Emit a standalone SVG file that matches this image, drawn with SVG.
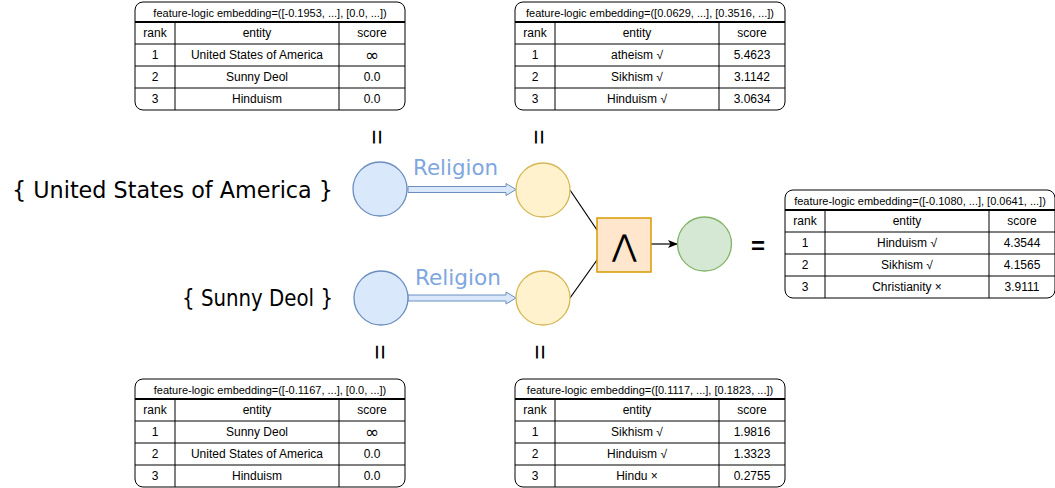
<svg xmlns="http://www.w3.org/2000/svg" width="1055" height="488" viewBox="0 0 1055 488">
<style>
.tb{fill:#fff;stroke:#000;stroke-width:1}
.hl{stroke:#000;stroke-width:2}
.ln{stroke:#000;stroke-width:1}
.t{font-family:"Liberation Sans",Arial,sans-serif;font-size:12px;fill:#000;text-anchor:middle;dominant-baseline:central}
.inf{font-family:"DejaVu Sans",sans-serif;font-size:17px;fill:#000;text-anchor:middle;dominant-baseline:central}
.h{font-family:"Liberation Sans",Arial,sans-serif;font-size:11px;fill:#000;text-anchor:middle;dominant-baseline:central}
.big{font-family:"DejaVu Sans",sans-serif;font-size:23px;fill:#000}
.rel{font-family:"DejaVu Sans",sans-serif;font-size:22px;fill:#7EA6E0}
.veq{font-family:"Liberation Sans",Arial,sans-serif;font-size:26px;fill:#000;text-anchor:middle;dominant-baseline:central}
.eq{font-family:"Liberation Sans",Arial,sans-serif;font-size:24px;font-weight:bold;fill:#000;text-anchor:middle;dominant-baseline:central}
.blue{fill:#dae8fc;stroke:#6c8ebf;stroke-width:1.3}
.yel{fill:#fff2cc;stroke:#d6b656;stroke-width:1.3}
.grn{fill:#d5e8d4;stroke:#82b366;stroke-width:1.3}
.sq{fill:#ffe6cc;stroke:#d79b00;stroke-width:1.5}
.flex{fill:#dae8fc;stroke:#6c8ebf;stroke-width:1}
</style>
<defs>
<marker id="arr" markerWidth="10" markerHeight="10" refX="9" refY="5" orient="auto" markerUnits="userSpaceOnUse">
<path d="M0,1 L10,5 L0,9 L2.5,5 Z" fill="#000"/>
</marker>
<g id="grid">
<rect class="tb" x="0" y="0" width="270" height="108" rx="8"/>
<line class="hl" x1="0" y1="20" x2="270" y2="20"/>
<line class="ln" x1="0" y1="42" x2="270" y2="42"/>
<line class="ln" x1="0" y1="64" x2="270" y2="64"/>
<line class="ln" x1="0" y1="86" x2="270" y2="86"/>
<line class="ln" x1="40" y1="20" x2="40" y2="108"/>
<line class="ln" x1="204" y1="20" x2="204" y2="108"/>
<text class="t" x="20" y="31">rank</text>
<text class="t" x="122" y="31">entity</text>
<text class="t" x="237" y="31">score</text>
<text class="t" x="20" y="53">1</text>
<text class="t" x="20" y="75">2</text>
<text class="t" x="20" y="97">3</text>
</g>
</defs>

<g id="connectors">
<polygon class="flex" points="408,186.5 506,186.5 506,183.5 516,189.5 506,195.5 506,192.5 408,192.5"/>
<polygon class="flex" points="408,295 506,295 506,292 516,298 506,304 506,301 408,301"/>
<line x1="570" y1="190" x2="597" y2="230" stroke="#000" stroke-width="1.2"/>
<line x1="570" y1="298" x2="597" y2="260" stroke="#000" stroke-width="1.2"/>
<line x1="651" y1="244" x2="677" y2="244" stroke="#000" stroke-width="1.2" marker-end="url(#arr)"/>
</g>

<g id="label-usa"><text class="big" x="12" y="198" textLength="321" lengthAdjust="spacingAndGlyphs">{ United States of America }</text></g>
<g id="label-sunny"><text class="big" x="182" y="306" textLength="151" lengthAdjust="spacingAndGlyphs">{ Sunny Deol }</text></g>
<g id="rel-top"><text class="rel" x="413" y="175" textLength="85" lengthAdjust="spacingAndGlyphs">Religion</text></g>
<g id="rel-bottom"><text class="rel" x="415" y="285" textLength="86" lengthAdjust="spacingAndGlyphs">Religion</text></g>

<g id="node-usa"><circle class="blue" cx="380" cy="189" r="27"/></g>
<g id="node-q1"><circle class="yel" cx="543" cy="190" r="27"/></g>
<g id="node-sunny"><circle class="blue" cx="381" cy="298" r="27"/></g>
<g id="node-q2"><circle class="yel" cx="543" cy="298" r="27"/></g>
<g id="node-and"><rect class="sq" x="597" y="218" width="54" height="54"/>
<text x="624" y="245" font-family="DejaVu Sans,sans-serif" font-weight="200" font-size="30" text-anchor="middle" dominant-baseline="central">⋀</text></g>
<g id="node-result"><circle class="grn" cx="704.5" cy="244" r="27"/></g>

<g id="equals">
<text class="veq" transform="translate(378,137) rotate(90)">=</text>
<text class="veq" transform="translate(540,137) rotate(90)">=</text>
<text class="veq" transform="translate(381,352) rotate(90)">=</text>
<text class="veq" transform="translate(541,352) rotate(90)">=</text>
<text class="eq" x="758" y="245">=</text>
</g>

<g id="table-usa" transform="translate(135,2)">
<use href="#grid"/>
<text class="h" x="135" y="10.5">feature-logic embedding=([-0.1953, ...], [0.0, ...])</text>
<text class="t" x="122" y="53">United States of America</text>
<text class="inf" x="237" y="53">∞</text>
<text class="t" x="122" y="75">Sunny Deol</text>
<text class="t" x="237" y="75">0.0</text>
<text class="t" x="122" y="97">Hinduism</text>
<text class="t" x="237" y="97">0.0</text>
</g>

<g id="table-q1" transform="translate(515,2)">
<use href="#grid"/>
<text class="h" x="135" y="10.5">feature-logic embedding=([0.0629, ...], [0.3516, ...])</text>
<text class="t" x="122" y="53">atheism √</text>
<text class="t" x="237" y="53">5.4623</text>
<text class="t" x="122" y="75">Sikhism √</text>
<text class="t" x="237" y="75">3.1142</text>
<text class="t" x="122" y="97">Hinduism √</text>
<text class="t" x="237" y="97">3.0634</text>
</g>

<g id="table-result" transform="translate(785,190)">
<use href="#grid"/>
<text class="h" x="135" y="10.5">feature-logic embedding=([-0.1080, ...], [0.0641, ...])</text>
<text class="t" x="122" y="53">Hinduism √</text>
<text class="t" x="237" y="53">4.3544</text>
<text class="t" x="122" y="75">Sikhism √</text>
<text class="t" x="237" y="75">4.1565</text>
<text class="t" x="122" y="97">Christianity ×</text>
<text class="t" x="237" y="97">3.9111</text>
</g>

<g id="table-sunny" transform="translate(135,379)">
<use href="#grid"/>
<text class="h" x="135" y="10.5">feature-logic embedding=([-0.1167, ...], [0.0, ...])</text>
<text class="t" x="122" y="53">Sunny Deol</text>
<text class="inf" x="237" y="53">∞</text>
<text class="t" x="122" y="75">United States of America</text>
<text class="t" x="237" y="75">0.0</text>
<text class="t" x="122" y="97">Hinduism</text>
<text class="t" x="237" y="97">0.0</text>
</g>

<g id="table-q2" transform="translate(515,379)">
<use href="#grid"/>
<text class="h" x="135" y="10.5">feature-logic embedding=([0.1117, ...], [0.1823, ...])</text>
<text class="t" x="122" y="53">Sikhism √</text>
<text class="t" x="237" y="53">1.9816</text>
<text class="t" x="122" y="75">Hinduism √</text>
<text class="t" x="237" y="75">1.3323</text>
<text class="t" x="122" y="97">Hindu ×</text>
<text class="t" x="237" y="97">0.2755</text>
</g>
</svg>
